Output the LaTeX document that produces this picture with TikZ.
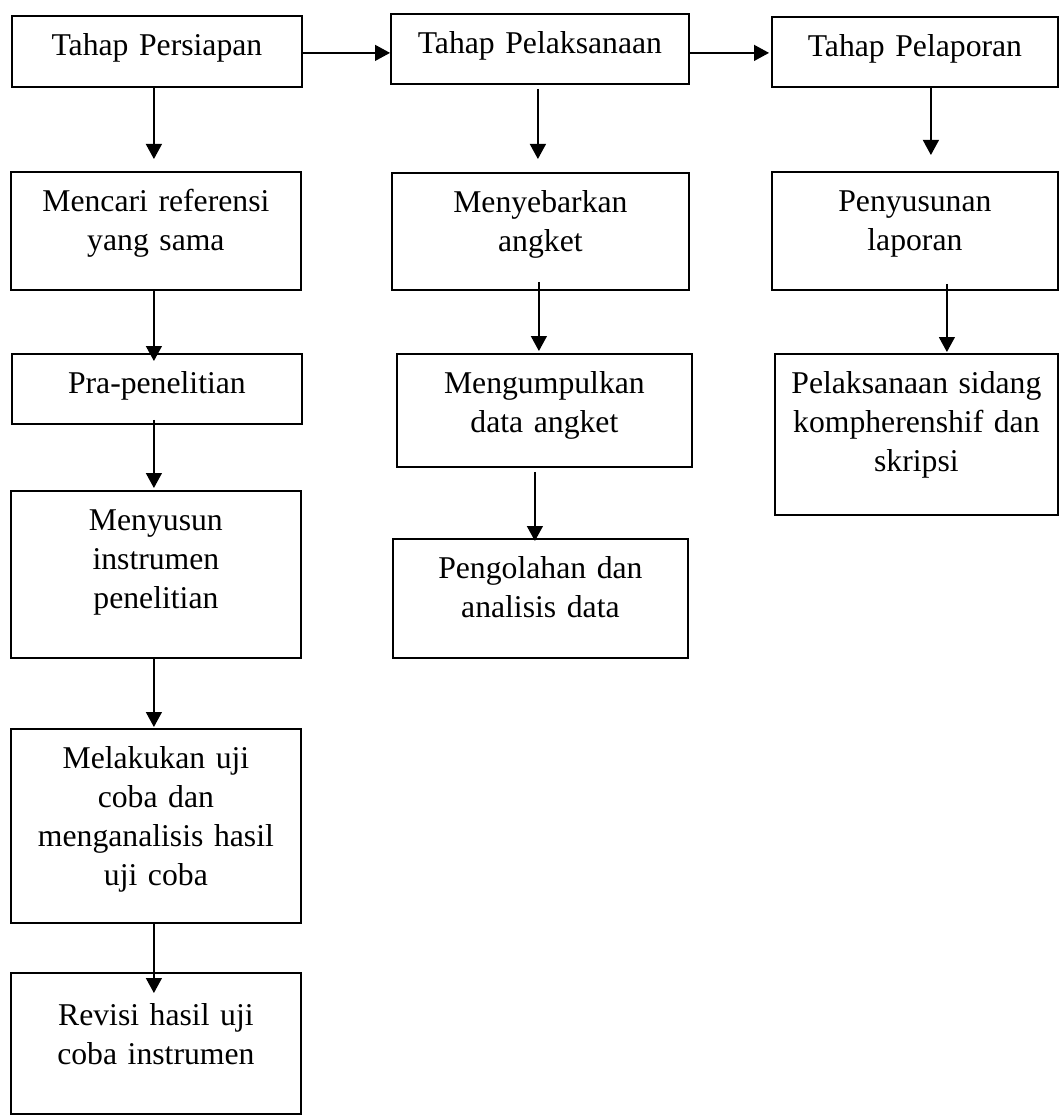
\documentclass[tikz,border=0pt]{standalone}
\usepackage{fontspec}
\setmainfont{Liberation Serif}
\usetikzlibrary{arrows.meta, calc}

\tikzset{
  box/.style={draw, line width=1.8pt, inner sep=0pt, align=center, anchor=north west,
              text height=40pt, font=\fontsize{31.7}{39}\selectfont},
  arr/.style={line width=1.3pt, -{Triangle[length=15pt,width=16pt]}}
}

\begin{document}
\begin{tikzpicture}[x=1pt, y=-1pt]
    \useasboundingbox (0,0) rectangle (1059,1115);
    % tahap
    \node[box, text width=290pt, text depth=31pt] (persiapan)   at (11,15)  {Tahap Persiapan};
    \node[box, text width=298pt, text depth=30pt] (pelaksanaan) at (390,13) {Tahap Pelaksanaan};
    \node[box, text width=286pt, text depth=30pt] (pelaporan)   at (771,16) {Tahap Pelaporan};
    % persiapan
    \node[box, text width=290pt, text depth=78pt]  (mencari)   at (10,171) {Mencari referensi\\yang sama};
    \node[box, text width=290pt, text depth=30pt]  (pra)       at (11,353) {Pra-penelitian};
    \node[box, text width=290pt, text depth=127pt] (menyusun)  at (10,490) {Menyusun\\instrumen\\penelitian};
    \node[box, text width=290pt, text depth=154pt] (melakukan) at (10,728) {Melakukan uji\\coba dan\\menganalisis hasil\\uji coba};
    \node[box, text width=290pt, text height=53pt, text depth=88pt] (revisi) at (10,972) {Revisi hasil uji\\coba instrumen};
    % pelaksanaan
    \node[box, text width=297pt, text depth=77pt] (menyebarkan)  at (391,172) {Menyebarkan\\angket};
    \node[box, text width=295pt, text depth=73pt] (mengumpulkan) at (396,353) {Mengumpulkan\\data angket};
    \node[box, text width=295pt, text depth=79pt] (pengolahan)   at (392,538) {Pengolahan dan\\analisis data};
    % pelaporan
    \node[box, text width=286pt, text depth=78pt]  (penyusunan) at (771,171) {Penyusunan\\laporan};
    \node[box, text width=283pt, text depth=121pt] (sidang)     at (774,353) {Pelaksanaan sidang\\kompherenshif dan\\skripsi};

    \draw[arr] ($(persiapan.east)+(0,1.5)$) -- ($(pelaksanaan.west)+(0,4)$);
    \draw[arr] ($(pelaksanaan.east)+(0,4)$) -- ($(pelaporan.west)+(-2,1)$);

    \draw[arr] ($(persiapan.south)+(-3,0)$) -- ($(mencari.north)+(-2,-12)$);
    \draw[arr] ($(mencari.south)+(-2,0)$) -- ($(pra.north)+(-3,8)$);
    \draw[arr] ($(pra.south)+(-3,-5)$) -- ($(menyusun.north)+(-2,-2)$);
    \draw[arr] ($(menyusun.south)+(-2,0)$) -- ($(melakukan.north)+(-2,-1)$);
    \draw[arr] ($(melakukan.south)+(-2,0)$) -- ($(revisi.north)+(-2,21)$);

    \draw[arr] ($(pelaksanaan.south)+(-2,4)$) -- ($(menyebarkan.north)+(-2.5,-13)$);
    \draw[arr] ($(menyebarkan.south)+(-1.5,-9)$) -- ($(mengumpulkan.north)+(-5.5,-2)$);
    \draw[arr] ($(mengumpulkan.south)+(-9.5,4)$) -- ($(pengolahan.north)+(-5.5,3)$);

    \draw[arr] ($(pelaporan.south)+(16,0)$) -- ($(penyusunan.north)+(16,-16)$);
    \draw[arr] ($(penyusunan.south)+(32,-7)$) -- ($(sidang.north)+(30.5,-1)$);
\end{tikzpicture}
\end{document}
